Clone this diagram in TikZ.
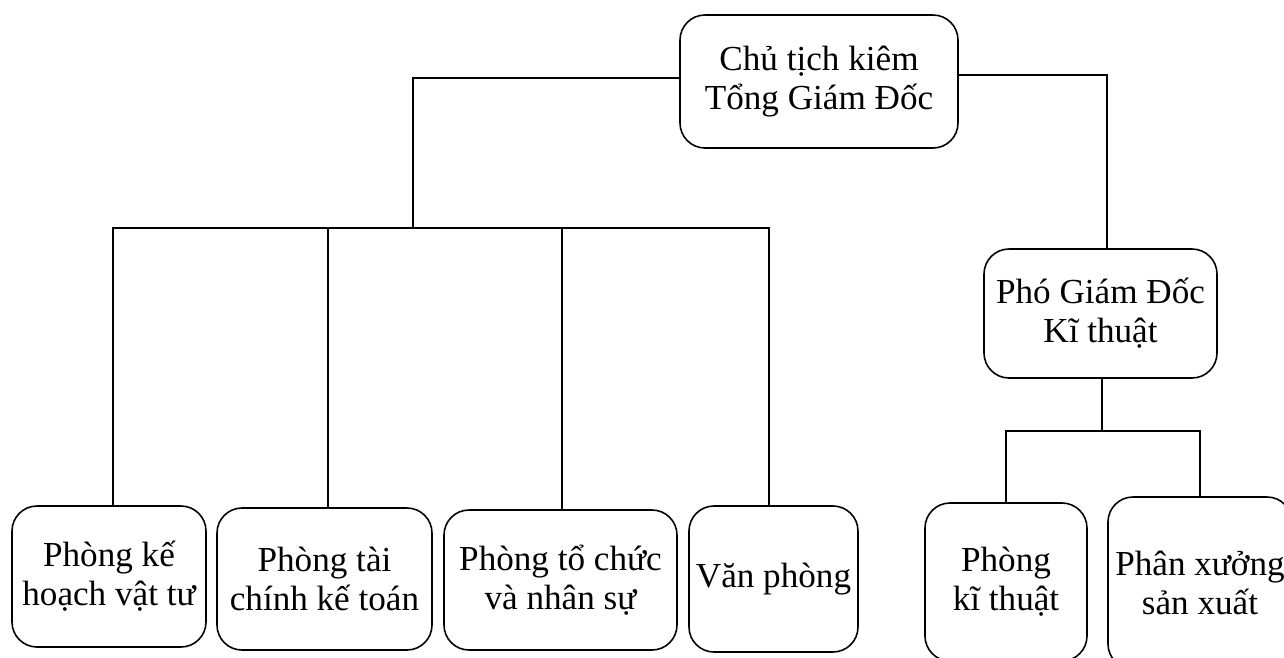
\documentclass[tikz,border=0pt]{standalone}
\usepackage{fontspec}
\setmainfont{Liberation Serif}
\usetikzlibrary{calc}

\begin{document}
\begin{tikzpicture}[x=0.2mm, y=-0.2mm, line width=0.9pt,
    every node/.style={font=\fontsize{20}{22}\selectfont},
    unit/.style={draw, rounded corners=0.5cm, align=center, inner sep=0pt}]
      \useasboundingbox (0,0) rectangle (1284,657);

      \node at (819,81.5)
      [unit, minimum width=5.56cm, minimum height=2.66cm, name=ceo]
      {Chủ tịch kiêm\\Tổng Giám Đốc};

      \node at (1100.5,313.5)
      [unit, minimum width=4.66cm, minimum height=2.58cm, name=pgd]
      {Phó Giám Đốc\\Kĩ thuật};

      \node at (109,576.5)
      [unit, minimum width=3.88cm, minimum height=2.82cm, name=kh]
      {Phòng kế\\hoạch vật tư};

      \node at (324.5,579)
      [unit, minimum width=4.3cm, minimum height=2.84cm, name=tc]
      {Phòng tài\\chính kế toán};

      \node at (560.5,580)
      [unit, minimum width=4.66cm, minimum height=2.8cm, name=ns]
      {Phòng tổ chức\\và nhân sự};

      \node at (773.5,579)
      [unit, minimum width=3.38cm, minimum height=2.92cm, name=vp]
      {Văn phòng};

      \node at (1006,582)
      [unit, minimum width=3.24cm, minimum height=3.16cm, name=pkt]
      {Phòng\\kĩ thuật};

      \node at (1200,583)
      [unit, minimum width=3.68cm, minimum height=3.44cm, name=pxsx]
      {Phân xưởng\\sản xuất};

      \coordinate (bus) at (413,228);
      \coordinate (bus2) at (1102,431);

      % khoi ben trai
      \draw ($(ceo.west)+(0,-3.5)$) -| (bus);
      \draw ($(kh.north)+(4,0)$) |- (bus) -| ($(vp.north)+(-4.5,0)$);
      \draw ($(tc.north)+(3.5,0)$) -- ($(tc.north |- bus)+(3.5,0)$);
      \draw ($(ns.north)+(1.5,0)$) -- ($(ns.north |- bus)+(1.5,0)$);

      % khoi ben phai
      \draw ($(ceo.east)+(0,-6.5)$) -| ($(pgd.north)+(6.5,0)$);
      \draw (pgd.south -| bus2) -- (bus2);
      \draw (pkt.north) |- (bus2) -| (pxsx.north);
    \end{tikzpicture}
\end{document}
